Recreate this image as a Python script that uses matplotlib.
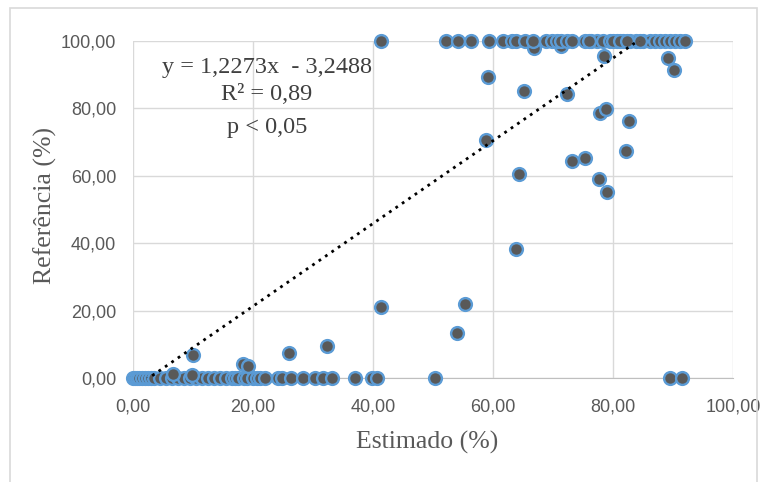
import matplotlib.pyplot as plt
from matplotlib.patches import Rectangle

# Estimado (%) x Referência (%)
x_top = [41.4, 52.2, 54.2, 56.4, 59.4, 61.7, 63.1, 63.9, 65.3, 66.7, 68.9, 69.8,
         70.6, 71.4, 72.3, 73.1, 75.3, 76.4, 77.3, 78.4, 79.5, 80.6, 81.7, 82.8,
         83.9, 85.0, 86.2, 87.0, 87.8, 88.7, 89.5, 90.3, 91.2, 92.0, 76.0, 80.0,
         81.2, 82.3, 84.5]
y_top = [100.0] * len(x_top)

x_zero = [0.0, 0.3, 0.6, 1.0, 1.5, 2.0, 2.5, 3.0, 3.5, 4.5, 5.5, 6.5, 7.5, 8.5,
          9.5, 10.5, 11.5, 12.5, 13.5, 14.5, 15.5, 16.5, 17.0, 17.5, 18.5, 19.0,
          20.0, 20.6, 21.2, 22.0, 24.2, 24.8, 26.4, 28.4, 30.3, 31.6, 33.1, 37.0,
          39.8, 40.6, 50.3, 89.5, 91.5]
y_zero = [0.0] * len(x_zero)

x_mid = [6.7, 9.8, 10.0, 18.4, 19.2, 26.0, 32.3, 41.3, 55.3, 54.0, 63.9, 64.4,
         58.9, 59.2, 65.1, 66.9, 71.4, 72.4, 77.8, 78.8, 82.6, 73.2, 75.3, 82.2,
         77.6, 79.0, 78.5, 89.2, 90.2]
y_mid = [1.2, 0.8, 6.8, 4.2, 3.6, 7.3, 9.6, 21.1, 22.0, 13.4, 38.2, 60.4,
         70.6, 89.4, 85.2, 98.0, 98.6, 84.2, 78.5, 79.7, 76.3, 64.5, 65.2, 67.5,
         59.1, 55.3, 95.6, 95.0, 91.4]

estimado = x_zero + x_mid + x_top
referencia = y_zero + y_mid + y_top

# linha de tendência (Excel)
slope = 1.2273
intercept = -3.2488
x_fit = [0.0, 92.0]

fig = plt.figure(figsize=(7.64, 4.82), dpi=100)
ax = fig.add_axes([133 / 764, 1 - 378 / 482, 600 / 764, 337 / 482])

ax.scatter(estimado, referencia, s=85, c="#595959", edgecolors="#5B9BD5",
           linewidths=1.7, zorder=3, clip_on=False)
ax.plot(x_fit, [slope * v + intercept for v in x_fit], color="black",
        linestyle=(0, (1, 1.8)), linewidth=2, zorder=4)

ax.set_xlim(0, 100)
ax.set_ylim(0, 100)
ax.set_xticks(range(0, 101, 20))
ax.set_yticks(range(0, 101, 20))
ax.set_xticklabels(["%d,00" % v for v in range(0, 101, 20)])
ax.set_yticklabels(["%d,00" % v for v in range(0, 101, 20)])
ax.grid(True, color="#D9D9D9", linewidth=1)
ax.set_axisbelow(True)
for s in ["top", "right", "left"]:
    ax.spines[s].set_visible(False)
ax.spines["bottom"].set_color("#BFBFBF")
ax.tick_params(axis="x", length=0, pad=15)
ax.tick_params(axis="y", length=0, pad=12)
ax.tick_params(labelcolor="#595959", labelsize=13)
for lab in ax.get_xticklabels() + ax.get_yticklabels():
    lab.set_family(["Liberation Sans Narrow", "Liberation Sans", "DejaVu Sans"])

serif = ["Liberation Serif", "DejaVu Serif"]
ax.set_xlabel("Estimado (%)", family=serif, fontsize=18.5, color="#595959")
ax.set_ylabel("Referência (%)", family=serif, fontsize=18.5, color="#595959")
ax.xaxis.set_label_coords(0.49, -0.157)
ax.yaxis.set_label_coords(-0.127, 0.513)

for txt, ypix in [("y = 1,2273x  - 3,2488", 67), ("R² = 0,89", 95), ("p < 0,05", 127)]:
    fig.text(267 / 764, 1 - ypix / 482, txt, family=serif, fontsize=17.5,
             color="#404040", ha="center", va="center")

fig.patches.append(Rectangle((10 / 764, -0.05), 747 / 764, 1.05 - 8 / 482,
                             transform=fig.transFigure, fill=False,
                             edgecolor="#D9D9D9", linewidth=1.2))

fig.savefig("out.png", dpi=100)
